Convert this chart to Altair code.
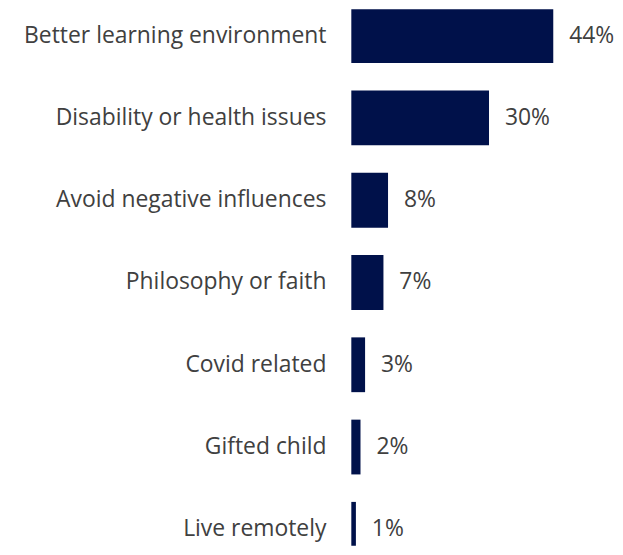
import altair as alt
import pandas as pd

categories = [
    "Better learning environment",
    "Disability or health issues",
    "Avoid negative influences",
    "Philosophy or faith",
    "Covid related",
    "Gifted child",
    "Live remotely",
]
values = [44, 30, 8, 7, 3, 2, 1]
labels = ["44%", "30%", "8%", "7%", "3%", "2%", "1%"]

df = pd.DataFrame({
    "category": categories,
    "value": values,
    "label": labels,
    "pos": list(range(len(categories))),
})
df["zero"] = 0
df["y0"] = df["pos"] - 0.333
df["y1"] = df["pos"] + 0.333

W, H = 607, 539
xscale = alt.Scale(domain=[-74.8, 56.8], nice=False, zero=False)
yscale = alt.Scale(domain=[-0.3206, 6.199], nice=False, zero=False, reverse=True)

base = alt.Chart(df)

bars = base.mark_bar(color="#00114A", clip=True).encode(
    x=alt.X("zero:Q", scale=xscale, axis=None),
    x2="value:Q",
    y=alt.Y("y0:Q", scale=yscale, axis=None),
    y2="y1:Q",
)

cat_text = base.mark_text(
    align="right", baseline="middle", dx=-25, font="Open Sans", fontSize=23, color="#404040"
).encode(
    x=alt.X("zero:Q", scale=xscale, axis=None),
    y=alt.Y("pos:Q", scale=yscale, axis=None),
    text="category:N",
)

val_text = base.mark_text(
    align="left", baseline="middle", dx=16, font="Open Sans", fontSize=23, color="#404040"
).encode(
    x=alt.X("value:Q", scale=xscale, axis=None),
    y=alt.Y("pos:Q", scale=yscale, axis=None),
    text="label:N",
)

chart = alt.layer(bars, cat_text, val_text).properties(
    width=W, height=H, padding=0
).configure_view(stroke=None)

chart.save("out.html", embed_options={"renderer": "svg", "actions": False})
